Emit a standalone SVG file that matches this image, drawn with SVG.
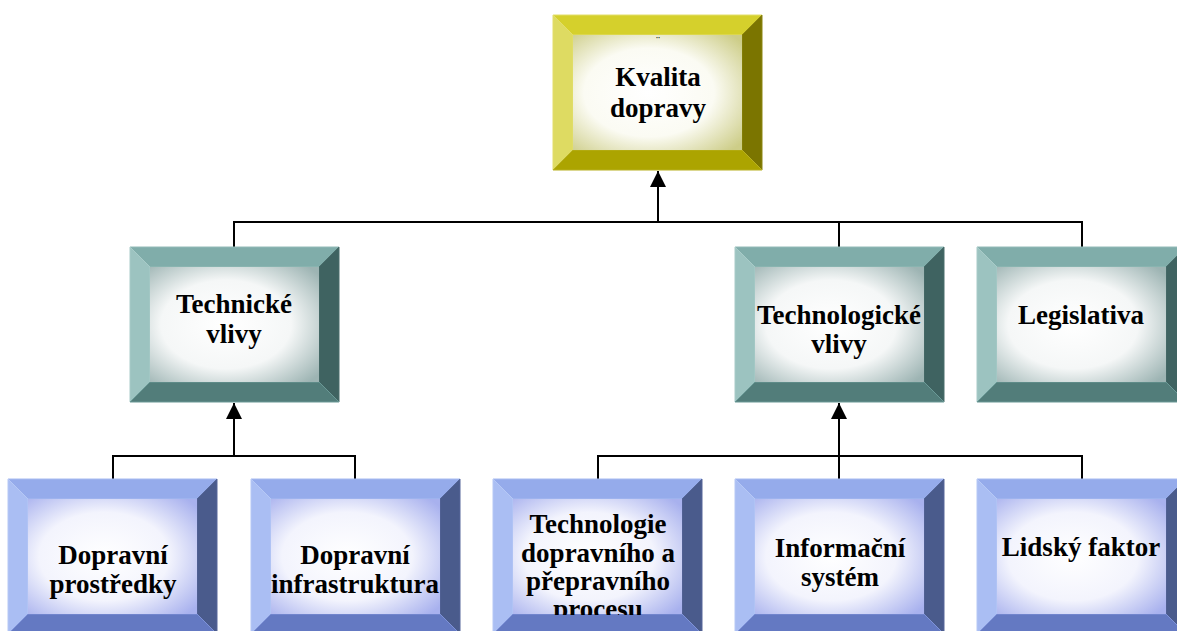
<svg xmlns="http://www.w3.org/2000/svg" xmlns:xlink="http://www.w3.org/1999/xlink" width="1177" height="631" viewBox="0 0 1177 631">
  <style>
    .lbl { font-family: "Liberation Serif", "Times New Roman", serif; font-weight: bold; font-size: 27px; fill: #000; text-anchor: middle; }
    .conn { fill: none; stroke: #000; stroke-width: 2; }
    .edge { stroke-width: 1; }
    .y-top { fill: #d5d02c; stroke: #e2de6a; }
    .y-left { fill: #dedb62; stroke: #e2de6a; }
    .y-right { fill: #7b7500; stroke: #8c8610; }
    .y-bot { fill: #aca400; stroke: #b8b020; }
    .t-top { fill: #80adaa; stroke: #92bab7; }
    .t-left { fill: #9cc3c0; stroke: #a8cbc8; }
    .t-right { fill: #3f6361; stroke: #4a6e6c; }
    .t-bot { fill: #527d7a; stroke: #6a9996; }
    .b-top { fill: #95abeb; stroke: #a6baf0; }
    .b-left { fill: #aabef3; stroke: #b6c8f5; }
    .b-right { fill: #4a5b8c; stroke: #56679a; }
    .b-bot { fill: #6479c2; stroke: #7e92d8; }
  </style>
  <defs>
    <radialGradient id="face-y" cx="0.45" cy="0.5" r="0.7">
      <stop offset="0" stop-color="#ffffff"/>
      <stop offset="0.55" stop-color="#fbfbf3"/>
      <stop offset="1" stop-color="#cdcd88"/>
    </radialGradient>
    <radialGradient id="face-t" cx="0.45" cy="0.5" r="0.7">
      <stop offset="0" stop-color="#ffffff"/>
      <stop offset="0.55" stop-color="#f5f7f7"/>
      <stop offset="1" stop-color="#9db4b3"/>
    </radialGradient>
    <radialGradient id="face-b" cx="0.45" cy="0.5" r="0.7">
      <stop offset="0" stop-color="#ffffff"/>
      <stop offset="0.55" stop-color="#f3f4fd"/>
      <stop offset="1" stop-color="#a8b1ee"/>
    </radialGradient>

    <!-- bevelled frame, 209 x 155 with a 20px bevel -->
    <g id="box-y">
      <polygon class="edge y-top" points="0,0 209,0 189,20 20,20"/>
      <polygon class="edge y-left" points="0,0 20,20 20,135 0,155"/>
      <polygon class="edge y-right" points="209,0 209,155 189,135 189,20"/>
      <polygon class="edge y-bot" points="0,155 20,135 189,135 209,155"/>
      <rect x="20" y="20" width="169" height="115" fill="url(#face-y)"/>
    </g>
    <g id="box-t">
      <polygon class="edge t-top" points="0,0 209,0 189,20 20,20"/>
      <polygon class="edge t-left" points="0,0 20,20 20,135 0,155"/>
      <polygon class="edge t-right" points="209,0 209,155 189,135 189,20"/>
      <polygon class="edge t-bot" points="0,155 20,135 189,135 209,155"/>
      <rect x="20" y="20" width="169" height="115" fill="url(#face-t)"/>
    </g>
    <g id="box-b">
      <polygon class="edge b-top" points="0,0 209,0 189,20 20,20"/>
      <polygon class="edge b-left" points="0,0 20,20 20,135 0,155"/>
      <polygon class="edge b-right" points="209,0 209,155 189,135 189,20"/>
      <polygon class="edge b-bot" points="0,155 20,135 189,135 209,155"/>
      <rect x="20" y="20" width="169" height="115" fill="url(#face-b)"/>
    </g>

    <marker id="arrow" markerUnits="userSpaceOnUse" markerWidth="16" markerHeight="16" viewBox="0 0 16 16" refX="16" refY="8" orient="auto">
      <polygon points="0,0 16,8 0,16" fill="#000"/>
    </marker>

    <clipPath id="clip-tech">
      <rect x="513" y="499" width="170" height="116"/>
    </clipPath>
  </defs>

  <rect width="1177" height="631" fill="#ffffff"/>

  <g id="connectors">
    <path class="conn" d="M234,247 V222 H1082 V247"/>
    <path class="conn" d="M839,222 V247"/>
    <path class="conn" d="M658,222 V171" marker-end="url(#arrow)"/>
    <path class="conn" d="M113,479 V456 H355 V479"/>
    <path class="conn" d="M234,456 V403" marker-end="url(#arrow)"/>
    <path class="conn" d="M598,479 V456 H1082 V479"/>
    <path class="conn" d="M839,479 V403" marker-end="url(#arrow)"/>
  </g>

  <g id="kvalita-dopravy">
    <use xlink:href="#box-y" x="553" y="15"/>
    <text x="658" y="45" style="font-family:'Liberation Serif',serif;font-size:12px;text-anchor:middle">¨</text>
    <text class="lbl" x="658" y="86">Kvalita</text>
    <text class="lbl" x="658" y="117">dopravy</text>
  </g>

  <g id="technicke-vlivy">
    <use xlink:href="#box-t" x="130" y="247"/>
    <text class="lbl" x="234" y="313">Technické</text>
    <text class="lbl" x="234" y="343">vlivy</text>
  </g>

  <g id="technologicke-vlivy">
    <use xlink:href="#box-t" x="735" y="247"/>
    <text class="lbl" x="839" y="324">Technologické</text>
    <text class="lbl" x="839" y="353">vlivy</text>
  </g>

  <g id="legislativa">
    <use xlink:href="#box-t" x="977" y="247"/>
    <text class="lbl" x="1081" y="324">Legislativa</text>
  </g>

  <g id="dopravni-prostredky">
    <use xlink:href="#box-b" x="8" y="479"/>
    <text class="lbl" x="113" y="564">Dopravní</text>
    <text class="lbl" x="113" y="593">prostředky</text>
  </g>

  <g id="dopravni-infrastruktura">
    <use xlink:href="#box-b" x="251" y="479"/>
    <text class="lbl" x="355" y="564">Dopravní</text>
    <text class="lbl" x="355" y="593">infrastruktura</text>
  </g>

  <g id="technologie-procesu">
    <use xlink:href="#box-b" x="493" y="479"/>
    <g clip-path="url(#clip-tech)">
      <text class="lbl" x="598" y="533">Technologie</text>
      <text class="lbl" x="598" y="562">dopravního a</text>
      <text class="lbl" x="598" y="590">přepravního</text>
      <text class="lbl" x="598" y="618">procesu</text>
    </g>
  </g>

  <g id="informacni-system">
    <use xlink:href="#box-b" x="735" y="479"/>
    <text class="lbl" x="840" y="557">Informační</text>
    <text class="lbl" x="840" y="586">systém</text>
  </g>

  <g id="lidsky-faktor">
    <use xlink:href="#box-b" x="977" y="479"/>
    <text class="lbl" x="1081" y="556">Lidský faktor</text>
  </g>
</svg>
